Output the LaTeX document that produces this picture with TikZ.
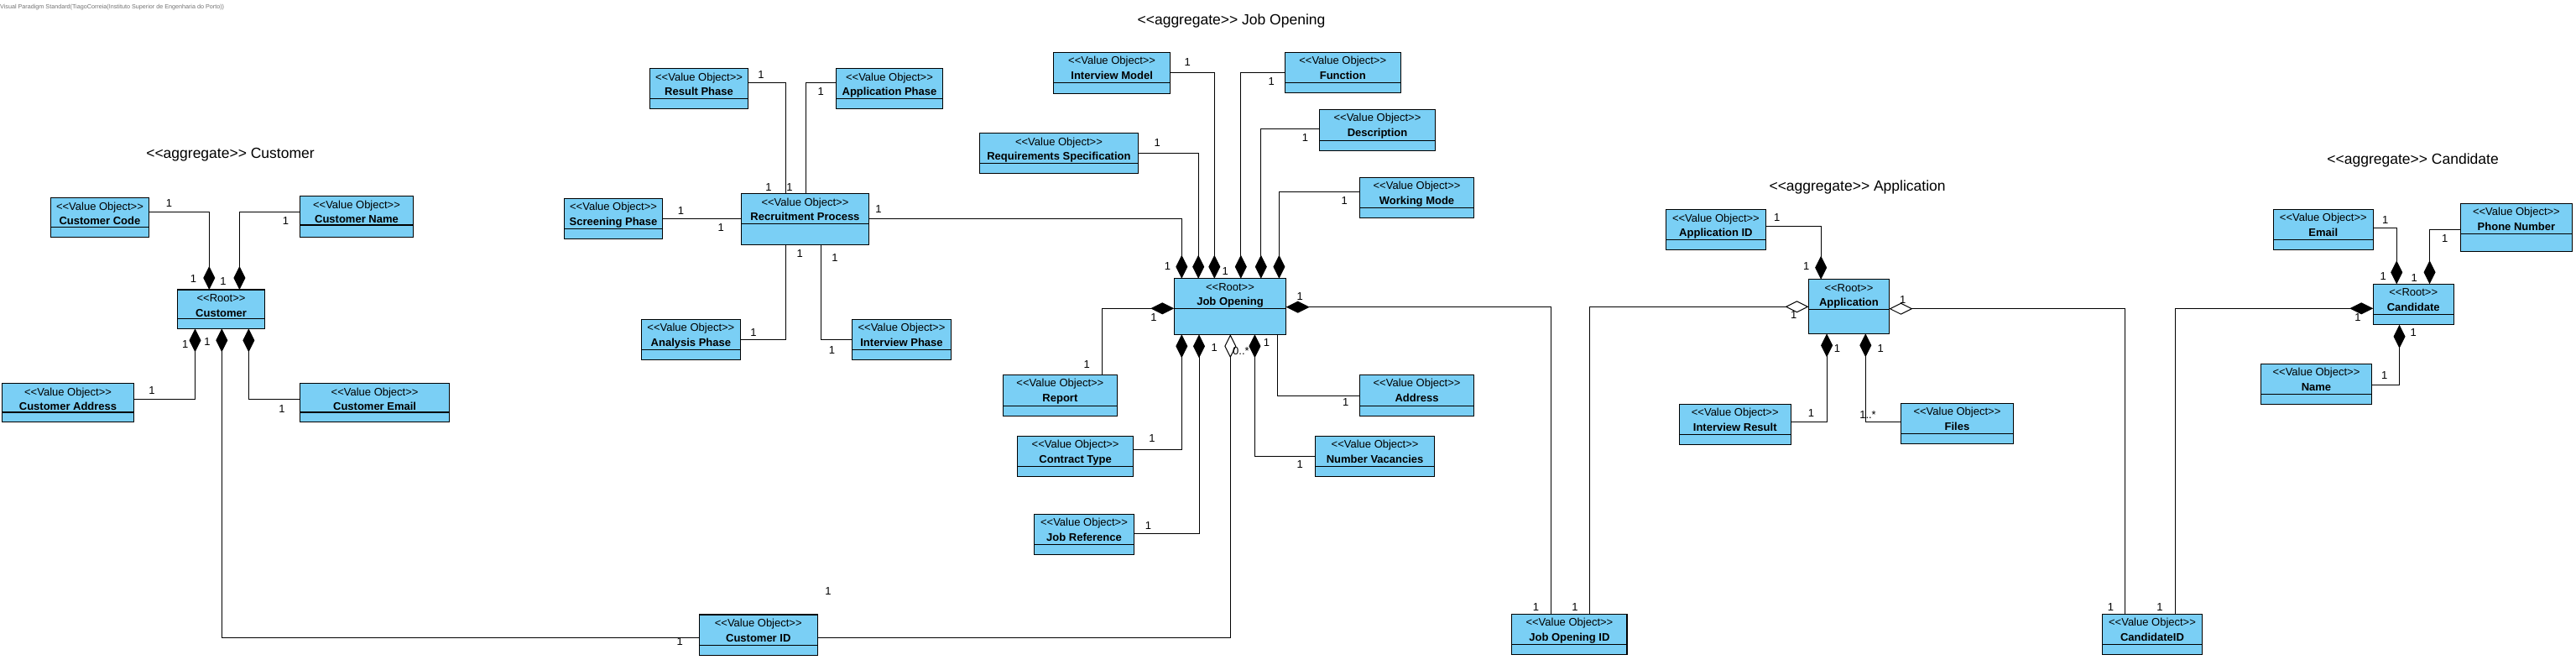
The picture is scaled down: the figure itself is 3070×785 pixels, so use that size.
\documentclass[tikz,border=0pt]{standalone}
\usepackage{fontspec}
\setmainfont{Liberation Sans}
\usetikzlibrary{arrows.meta,calc}
\definecolor{vpblue}{HTML}{7ACFF5}
\newcommand{\vpL}{<\kern0pt<}
\newcommand{\vpR}{>\kern0pt>}
\newcommand{\VO}{\vpL Value Object\vpR}
\newcommand{\RT}{\vpL Root\vpR}
\tikzset{
  clsbox/.style={draw=black, line width=1.1pt, fill=vpblue, inner sep=0pt, outer sep=0pt, anchor=north west},
  stereo/.style={font=\fontsize{13}{15}\selectfont, anchor=base, inner sep=0pt},
  cname/.style={font=\bfseries\fontsize{13}{15}\selectfont, anchor=base, inner sep=0pt},
  mult/.style={font=\fontsize{13}{15}\selectfont, inner sep=0pt},
  ttl/.style={font=\fontsize{17.5}{20}\selectfont, anchor=base, inner sep=0pt},
  conn/.style={line width=1pt},
  comp/.style={line width=1pt, {Diamond[length=28pt,width=14pt]}-},
  aggr/.style={line width=1pt, {Diamond[open,length=28pt,width=14pt]}-},
}
\newcommand{\vobox}[8]{%
  \node[clsbox, minimum width={(#4-#2)*1pt}, minimum height={(#5-#3)*1pt}] (#1) at (#2,#3) {};
  \draw[line width=1.1pt] (#1.west |- 0,#6) -- (#1.east |- 0,#6);
  \node[stereo] (#1-s) at ({(#2+#4)/2},{#3+14.5}) {#7};
  \node[cname] (#1-n) at ({(#2+#4)/2},{#3+32}) {#8};
}
\begin{document}
\begin{tikzpicture}[x=1pt,y=-1pt]
\useasboundingbox[fill=white] (0,0) rectangle (3070,785);

% watermark and titles
\node[anchor=base west, inner sep=0pt, text=black!55, font=\fontsize{7.2}{8}\selectfont] (wm) at (0,10) {Visual Paradigm Standard(TiagoCorreia(Instituto Superior de Engenharia do Porto))};
\node[ttl] (t1) at (274.5,188.2) {\vpL aggregate\vpR{} Customer};
\node[ttl] (t2) at (1467.5,29.5) {\vpL aggregate\vpR{} Job Opening};
\node[ttl] (t3) at (2213.6,227.5) {\vpL aggregate\vpR{} Application};
\node[ttl] (t4) at (2875.6,195.8) {\vpL aggregate\vpR{} Candidate};

% ---------- boxes ----------
% Customer
\vobox{ccode}{60.4}{235.7}{177.5}{282.3}{270.3}{\VO}{Customer Code}
\vobox{cname}{357.5}{233.7}{492.5}{282.3}{268}{\VO}{Customer Name}
\vobox{croot}{211.4}{345}{315.7}{391.3}{379.3}{\RT}{Customer}
\vobox{caddr}{2.5}{456.7}{159.6}{502.7}{491}{\VO}{Customer Address}
\vobox{cemail}{357.5}{456.7}{535.7}{502.7}{491}{\VO}{Customer Email}
% Recruitment
\vobox{rphase}{774.3}{81.7}{891.8}{129.3}{117.7}{\VO}{Result Phase}
\vobox{aphase}{996.4}{81.7}{1123.6}{129.3}{117.7}{\VO}{Application Phase}
\vobox{rproc}{883.2}{230.7}{1035.7}{291.3}{266.3}{\VO}{Recruitment Process}
\vobox{sphase}{672.5}{236.3}{789.6}{284.7}{272.3}{\VO}{Screening Phase}
\vobox{anphase}{764.3}{380.3}{882.5}{428.7}{416.3}{\VO}{Analysis Phase}
\vobox{iphase}{1015.4}{380.3}{1133.6}{428.7}{416.3}{\VO}{Interview Phase}
% Job Opening
\vobox{imodel}{1255.7}{62.3}{1394.6}{111.3}{98.7}{\VO}{Interview Model}
\vobox{func}{1531.4}{62.3}{1669.1}{110.3}{98.3}{\VO}{Function}
\vobox{reqspec}{1167.4}{158.7}{1356.5}{206.7}{194.3}{\VO}{Requirements Specification}
\vobox{desc}{1572.5}{130.3}{1710.5}{179.3}{167.3}{\VO}{Description}
\vobox{wmode}{1620.6}{211.3}{1756.5}{259.3}{247.3}{\VO}{Working Mode}
\vobox{jroot}{1399.3}{331.7}{1532.7}{398.3}{367.3}{\RT}{Job Opening}
\vobox{report}{1195.6}{446.3}{1331.2}{495.7}{483.7}{\VO}{Report}
\vobox{ctype}{1212.6}{519.3}{1350.7}{567.7}{555.7}{\VO}{Contract Type}
\vobox{jref}{1232.5}{612.3}{1351.5}{660.3}{648.3}{\VO}{Job Reference}
\vobox{jaddr}{1620.6}{446.3}{1756.5}{495.7}{483.7}{\VO}{Address}
\vobox{nvac}{1567.5}{519.3}{1709.7}{567.7}{555.7}{\VO}{Number Vacancies}
\vobox{custid}{833.3}{732}{974.2}{780.7}{768.3}{\VO}{Customer ID}
% Application
\vobox{appid}{1985.3}{249.7}{2104.5}{297.3}{285.7}{\VO}{Application ID}
\vobox{aroot}{2155.5}{332.7}{2251.4}{397.3}{368.7}{\RT}{Application}
\vobox{iresult}{2001.2}{481.3}{2134.3}{529.3}{517.3}{\VO}{Interview Result}
\vobox{files}{2265.3}{480.3}{2399.6}{528.3}{516.3}{\VO}{Files}
\vobox{joid}{1801.8}{731.3}{1939}{779.3}{767.7}{\VO}{Job Opening ID}
% Candidate
\vobox{email}{2709.4}{249.3}{2828.2}{297.3}{285.3}{\VO}{Email}
\vobox{phone}{2932.2}{242.3}{3065.6}{299.3}{278.3}{\VO}{Phone Number}
\vobox{candroot}{2828.2}{338.3}{2924.2}{386.7}{374.3}{\RT}{Candidate}
\vobox{cname2}{2694.5}{433.3}{2826.4}{481.3}{469.3}{\VO}{Name}
\vobox{candid}{2505.6}{731.3}{2624.4}{779.3}{767.7}{\VO}{CandidateID}

% ---------- connectors ----------
% Customer
\draw[comp] (croot.north -| 249.3,0) |- (ccode.east |- 0,252.3);
\draw[comp] (croot.north -| 285.4,0) |- (cname.west |- 0,252.3);
\draw[comp] (croot.south -| 232.5,0) |- (caddr.east |- 0,475.7);
\draw[comp] (croot.south -| 264.3,0) |- (custid.west |- 0,759.3);
\draw[comp] (croot.south -| 296.4,0) |- (cemail.west |- 0,475.7);
% Recruitment
\draw[conn] (rphase.east |- 0,98.7) -| (rproc.north -| 936.4,0);
\draw[conn] (aphase.west |- 0,98.7) -| (rproc.north -| 960.4,0);
\draw[conn] (sphase.east |- 0,260.3) -- (rproc.west |- 0,260.3);
\draw[conn] (rproc.south -| 936.4,0) |- (anphase.east |- 0,404.3);
\draw[conn] (rproc.south -| 978.6,0) |- (iphase.west |- 0,404.3);
\draw[comp] (jroot.north -| 1408.3,0) |- (rproc.east |- 0,260.3);
% Job Opening
\draw[comp] (jroot.north -| 1428.2,0) |- (reqspec.east |- 0,182.3);
\draw[comp] (jroot.north -| 1447.3,0) |- (imodel.east |- 0,86.3);
\draw[comp] (jroot.north -| 1478.8,0) |- (func.west |- 0,86.3);
\draw[comp] (jroot.north -| 1502.8,0) |- (desc.west |- 0,153.3);
\draw[comp] (jroot.north -| 1524.4,0) |- (wmode.west |- 0,228.3);
\draw[comp] (jroot.west |- 0,367.3) -| (report.north -| 1313.8,0);
\draw[comp] (jroot.east |- 0,365.7) -| (joid.north -| 1848.3,0);
\draw[comp] (jroot.south -| 1408.3,0) |- (ctype.east |- 0,535);
\draw[comp] (jroot.south -| 1429,0) |- (jref.east |- 0,635.3);
\draw[aggr] (jroot.south -| 1466.3,0) |- (custid.east |- 0,759);
\draw[comp] (jroot.south -| 1495.4,0) |- (nvac.west |- 0,543);
\draw[conn] (jroot.south -| 1522.5,0) |- (jaddr.west |- 0,471);
% Application
\draw[comp] (aroot.north -| 2170.2,0) |- (appid.east |- 0,269.3);
\draw[aggr] (aroot.west |- 0,365.3) -| (joid.north -| 1894.3,0);
\draw[aggr] (aroot.east |- 0,367.7) -| (candid.north -| 2532.5,0);
\draw[comp] (aroot.south -| 2177.1,0) |- (iresult.east |- 0,502.3);
\draw[comp] (aroot.south -| 2223.3,0) |- (files.west |- 0,502.3);
% Candidate
\draw[comp] (candroot.north -| 2856.2,0) |- (email.east |- 0,271.3);
\draw[comp] (candroot.north -| 2895.5,0) |- (phone.west |- 0,273.3);
\draw[comp] (candroot.south -| 2859.5,0) |- (cname2.east |- 0,458);
\draw[comp] (candroot.west |- 0,367.3) -| (candid.north -| 2592.5,0);

% ---------- multiplicities ----------
\foreach \px/\py [count=\i] in {
  201.4/242.3, 230.4/331.7, 340.4/262.7, 266/335, 220.7/410, 181/465, 247/406.7, 336/486.7, 810.3/764.3, 987/704,
  907/89.3, 916/222.7, 978.2/109.3, 941/222.7, 811.4/251.3, 859.3/271.3, 953.2/301.7, 897.9/395.7, 995/307.3, 991.4/416.7, 1047/249.3, 1391.5/317.3,
  1379.3/170.3, 1415.3/74, 1460.3/322.7, 1515.3/96.7, 1555.5/164.3, 1602.3/239.3, 1375/378.3, 1295.1/434, 1549.3/353.3, 1830.5/722.7, 1373/522.3, 1368.5/626.3, 1447.3/414.3, 1509.5/407.7, 1549.3/553.3, 1603.6/479.3,
  2117.6/259.3, 2152.7/317.3, 2137.6/375.3, 1877/722.7, 2267.8/356.7, 2515.4/722.7, 2189.4/415, 2158.4/491.7, 2241.2/415,
  2842.8/262.3, 2840.2/329.3, 2913.7/283.7, 2877.3/330.7, 2876.2/396.3, 2841.7/447.3, 2810/378.3, 2573.9/722.7}
  {\node[mult] (m\i) at (\px,\py) {1};}
\node[mult, anchor=west] (mz) at (1469,418.3) {0..*};
\node[mult] (mf) at (2226,494.3) {1..*};
\end{tikzpicture}
\end{document}
